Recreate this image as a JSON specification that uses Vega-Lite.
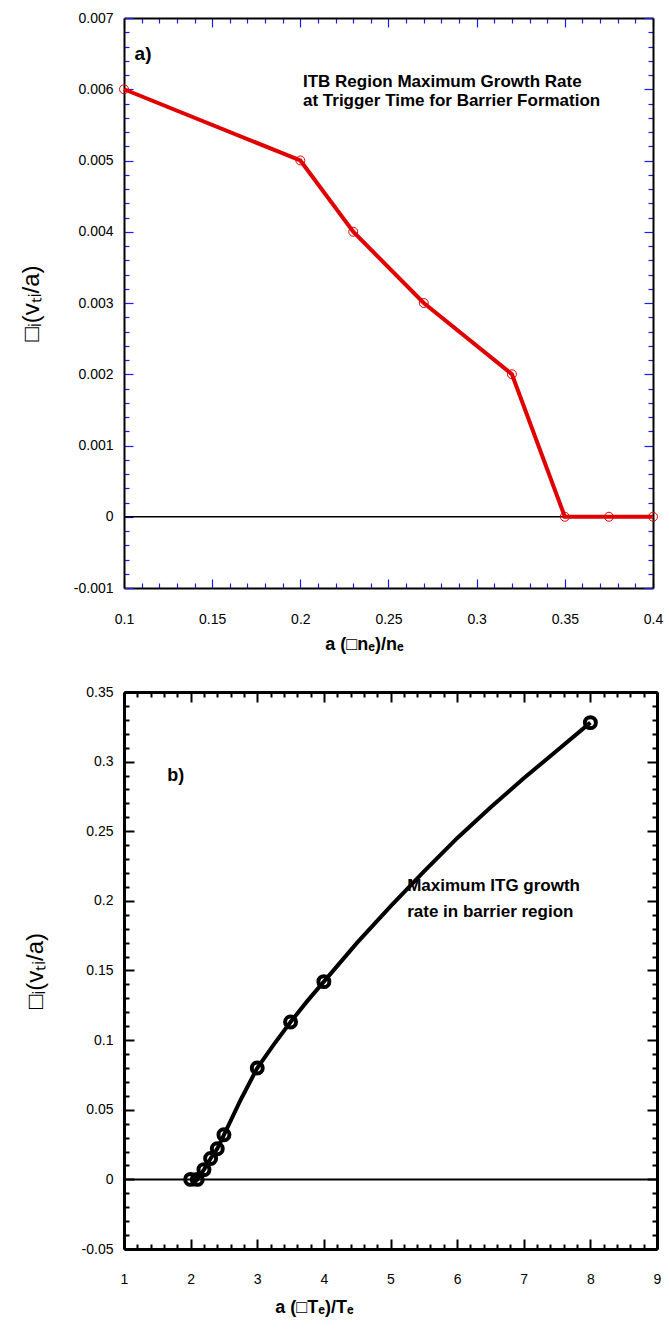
{
  "$schema": "https://vega.github.io/schema/vega-lite/v6.json",
  "background": "white",
  "padding": {"left": 19, "top": 11, "right": 10, "bottom": 5},
  "datasets": {
    "a_curve": [
      {"x": 0.1, "y": 0.006}, {"x": 0.2, "y": 0.005}, {"x": 0.23, "y": 0.004}, {"x": 0.27, "y": 0.003},
      {"x": 0.32, "y": 0.002}, {"x": 0.35, "y": 0}, {"x": 0.375, "y": 0}, {"x": 0.4, "y": 0}
    ],
    "zero": [{"y": 0}],
    "a_tag": [{"x": 0.106, "y": 0.0065, "text": "a)"}],
    "a_note": [
      {"x": 0.2015, "y": 0.0061, "text": "ITB Region Maximum Growth Rate"},
      {"x": 0.2015, "y": 0.00584, "text": "at Trigger Time for Barrier Formation"}
    ],
    "b_curve": [
      {"x": 2, "y": 0}, {"x": 2.1, "y": 0}, {"x": 2.2, "y": 0.007}, {"x": 2.3, "y": 0.015},
      {"x": 2.4, "y": 0.022}, {"x": 2.5, "y": 0.032}, {"x": 2.75, "y": 0.057}, {"x": 3, "y": 0.08},
      {"x": 3.25, "y": 0.097}, {"x": 3.5, "y": 0.113}, {"x": 3.75, "y": 0.128}, {"x": 4, "y": 0.142},
      {"x": 4.5, "y": 0.17}, {"x": 5, "y": 0.196}, {"x": 5.5, "y": 0.221}, {"x": 6, "y": 0.245},
      {"x": 6.5, "y": 0.267}, {"x": 7, "y": 0.288}, {"x": 7.5, "y": 0.308}, {"x": 8, "y": 0.328}
    ],
    "b_marks": [
      {"x": 2, "y": 0}, {"x": 2.1, "y": 0}, {"x": 2.2, "y": 0.007}, {"x": 2.3, "y": 0.015},
      {"x": 2.4, "y": 0.022}, {"x": 2.5, "y": 0.032}, {"x": 3, "y": 0.08}, {"x": 3.5, "y": 0.113},
      {"x": 4, "y": 0.142}, {"x": 8, "y": 0.328}
    ],
    "b_tag": [{"x": 1.65, "y": 0.29, "text": "b)"}],
    "b_note": [
      {"x": 5.25, "y": 0.2106, "text": "Maximum  ITG  growth"},
      {"x": 5.25, "y": 0.192, "text": "rate  in  barrier  region"}
    ]
  },
  "vconcat": [
    {
      "width": 529,
      "height": 570,
      "layer": [
        {
          "data": {"name": "zero"},
          "mark": {"type": "rule", "color": "black", "strokeWidth": 1.5},
          "encoding": {
            "y": {"field": "y", "type": "quantitative", "scale": {"domain": [-0.001, 0.007], "nice": false, "zero": false}, "axis": null}
          }
        },
        {
          "data": {"name": "a_curve"},
          "mark": {"type": "line", "color": "#e00000", "strokeWidth": 4, "clip": false},
          "encoding": {
            "x": {
              "field": "x", "type": "quantitative",
              "scale": {"domain": [0.1, 0.4], "nice": false, "zero": false},
              "axis": {
                "orient": "bottom",
                "values": [0.1,0.11,0.12,0.13,0.14,0.15,0.16,0.17,0.18,0.19,0.2,0.21,0.22,0.23,0.24,0.25,0.26,0.27,0.28,0.29,0.3,0.31,0.32,0.33,0.34,0.35,0.36,0.37,0.38,0.39,0.4],
                "labelExpr": "abs(datum.value*20-round(datum.value*20))<1e-6 ? replace(format(datum.value,'~g'),'−','-') : ''",
                "tickSize": {"condition": {"test": "abs(datum.value*20-round(datum.value*20))<1e-6", "value": -9}, "value": -5},
                "tickColor": "#1a1aff", "tickWidth": 1.2,
                "labelPadding": 33,
                "domainWidth": 2,
                "title": "a  (□nₑ)/nₑ",
                "titleFont": "Liberation Sans", "titleFontSize": 18, "titleFontWeight": "bold", "titleColor": "black",
                "titleX": 240,
                "titlePadding": 5
              }
            },
            "y": {
              "field": "y", "type": "quantitative",
              "scale": {"domain": [-0.001, 0.007], "nice": false, "zero": false},
              "axis": {
                "orient": "left",
                "values": [-0.001,-0.0008,-0.0006,-0.0004,-0.0002,0,0.0002,0.0004,0.0006,0.0008,0.001,0.0012,0.0014,0.0016,0.0018,0.002,0.0022,0.0024,0.0026,0.0028,0.003,0.0032,0.0034,0.0036,0.0038,0.004,0.0042,0.0044,0.0046,0.0048,0.005,0.0052,0.0054,0.0056,0.0058,0.006,0.0062,0.0064,0.0066,0.0068,0.007],
                "labelExpr": "abs(datum.value*1000-round(datum.value*1000))<1e-6 ? replace(format(datum.value,'~g'),'−','-') : ''",
                "tickSize": {"condition": {"test": "abs(datum.value*1000-round(datum.value*1000))<1e-6", "value": -9}, "value": -5},
                "tickColor": "#1a1aff", "tickWidth": 1.2,
                "labelPadding": 20,
                "domainWidth": 2,
                "title": "□ᵢ(vₜᵢ/a)",
                "titleFont": "Liberation Sans", "titleFontSize": 24, "titleFontWeight": "normal", "titleColor": "black",
                "titlePadding": 30
              }
            }
          }
        },
        {
          "data": {"name": "a_curve"},
          "mark": {"type": "point", "shape": "circle", "color": "#e00000", "size": 80, "strokeWidth": 1, "filled": false, "opacity": 1, "clip": false},
          "encoding": {
            "x": {
              "field": "x", "type": "quantitative",
              "axis": {
                "orient": "top",
                "values": [0.1,0.11,0.12,0.13,0.14,0.15,0.16,0.17,0.18,0.19,0.2,0.21,0.22,0.23,0.24,0.25,0.26,0.27,0.28,0.29,0.3,0.31,0.32,0.33,0.34,0.35,0.36,0.37,0.38,0.39,0.4],
                "labels": false,
                "tickSize": {"condition": {"test": "abs(datum.value*20-round(datum.value*20))<1e-6", "value": -9}, "value": -5},
                "tickColor": "#1a1aff", "tickWidth": 1.2,
                "domainWidth": 2,
                "title": null
              }
            },
            "y": {
              "field": "y", "type": "quantitative",
              "axis": {
                "orient": "right",
                "values": [-0.001,-0.0008,-0.0006,-0.0004,-0.0002,0,0.0002,0.0004,0.0006,0.0008,0.001,0.0012,0.0014,0.0016,0.0018,0.002,0.0022,0.0024,0.0026,0.0028,0.003,0.0032,0.0034,0.0036,0.0038,0.004,0.0042,0.0044,0.0046,0.0048,0.005,0.0052,0.0054,0.0056,0.0058,0.006,0.0062,0.0064,0.0066,0.0068,0.007],
                "labels": false,
                "tickSize": {"condition": {"test": "abs(datum.value*1000-round(datum.value*1000))<1e-6", "value": -9}, "value": -5},
                "tickColor": "#1a1aff", "tickWidth": 1.2,
                "domainWidth": 2,
                "title": null
              }
            }
          }
        },
        {
          "data": {"name": "a_tag"},
          "mark": {"type": "text", "align": "left", "baseline": "middle", "font": "Liberation Sans", "fontSize": 19, "fontWeight": "bold", "color": "black"},
          "encoding": {
            "x": {"field": "x", "type": "quantitative", "axis": null},
            "y": {"field": "y", "type": "quantitative", "axis": null},
            "text": {"field": "text"}
          }
        },
        {
          "data": {"name": "a_note"},
          "mark": {"type": "text", "align": "left", "baseline": "middle", "font": "Liberation Sans", "fontSize": 17, "fontWeight": "bold", "color": "black"},
          "encoding": {
            "x": {"field": "x", "type": "quantitative", "axis": null},
            "y": {"field": "y", "type": "quantitative", "axis": null},
            "text": {"field": "text"}
          }
        }
      ],
      "resolve": {"axis": {"x": "independent", "y": "independent"}}
    },
    {
      "width": 533,
      "height": 557,
      "layer": [
        {
          "data": {"name": "zero"},
          "mark": {"type": "rule", "color": "black", "strokeWidth": 2},
          "encoding": {
            "y": {"field": "y", "type": "quantitative", "scale": {"domain": [-0.05, 0.35], "nice": false, "zero": false}, "axis": null}
          }
        },
        {
          "data": {"name": "b_curve"},
          "mark": {"type": "line", "color": "black", "strokeWidth": 4, "clip": false},
          "encoding": {
            "x": {
              "field": "x", "type": "quantitative",
              "scale": {"domain": [1, 9], "nice": false, "zero": false},
              "axis": {
                "orient": "bottom",
                "values": [1,1.2,1.4,1.6,1.8,2,2.2,2.4,2.6,2.8,3,3.2,3.4,3.6,3.8,4,4.2,4.4,4.6,4.8,5,5.2,5.4,5.6,5.8,6,6.2,6.4,6.6,6.8,7,7.2,7.4,7.6,7.8,8,8.2,8.4,8.6,8.8,9],
                "labelExpr": "abs(datum.value-round(datum.value))<1e-6 ? replace(format(datum.value,'~g'),'−','-') : ''",
                "tickSize": {"condition": {"test": "abs(datum.value-round(datum.value))<1e-6", "value": -10}, "value": -5},
                "tickColor": "black", "tickWidth": 2,
                "labelPadding": 33,
                "domainWidth": 3,
                "title": "a  (□Tₑ)/Tₑ",
                "titleFont": "Liberation Sans", "titleFontSize": 18, "titleFontWeight": "bold", "titleColor": "black",
                "titleX": 190,
                "titlePadding": 7
              }
            },
            "y": {
              "field": "y", "type": "quantitative",
              "scale": {"domain": [-0.05, 0.35], "nice": false, "zero": false},
              "axis": {
                "orient": "left",
                "values": [-0.05,-0.04,-0.03,-0.02,-0.01,0,0.01,0.02,0.03,0.04,0.05,0.06,0.07,0.08,0.09,0.1,0.11,0.12,0.13,0.14,0.15,0.16,0.17,0.18,0.19,0.2,0.21,0.22,0.23,0.24,0.25,0.26,0.27,0.28,0.29,0.3,0.31,0.32,0.33,0.34,0.35],
                "labelExpr": "abs(datum.value*20-round(datum.value*20))<1e-6 ? replace(format(datum.value,'~g'),'−','-') : ''",
                "tickSize": {"condition": {"test": "abs(datum.value*20-round(datum.value*20))<1e-6", "value": -10}, "value": -5},
                "tickColor": "black", "tickWidth": 2,
                "labelPadding": 21,
                "domainWidth": 3,
                "title": "□ᵢ(vₜᵢ/a)",
                "titleFont": "Liberation Sans", "titleFontSize": 24, "titleFontWeight": "normal", "titleColor": "black",
                "titlePadding": 34
              }
            }
          }
        },
        {
          "data": {"name": "b_marks"},
          "mark": {"type": "point", "shape": "circle", "color": "black", "size": 120, "strokeWidth": 4, "filled": false, "opacity": 1, "clip": false},
          "encoding": {
            "x": {
              "field": "x", "type": "quantitative",
              "axis": {
                "orient": "top",
                "values": [1,1.2,1.4,1.6,1.8,2,2.2,2.4,2.6,2.8,3,3.2,3.4,3.6,3.8,4,4.2,4.4,4.6,4.8,5,5.2,5.4,5.6,5.8,6,6.2,6.4,6.6,6.8,7,7.2,7.4,7.6,7.8,8,8.2,8.4,8.6,8.8,9],
                "labels": false,
                "tickSize": {"condition": {"test": "abs(datum.value-round(datum.value))<1e-6", "value": -10}, "value": -5},
                "tickColor": "black", "tickWidth": 2,
                "domainWidth": 3,
                "title": null
              }
            },
            "y": {
              "field": "y", "type": "quantitative",
              "axis": {
                "orient": "right",
                "values": [-0.05,-0.04,-0.03,-0.02,-0.01,0,0.01,0.02,0.03,0.04,0.05,0.06,0.07,0.08,0.09,0.1,0.11,0.12,0.13,0.14,0.15,0.16,0.17,0.18,0.19,0.2,0.21,0.22,0.23,0.24,0.25,0.26,0.27,0.28,0.29,0.3,0.31,0.32,0.33,0.34,0.35],
                "labels": false,
                "tickSize": {"condition": {"test": "abs(datum.value*20-round(datum.value*20))<1e-6", "value": -10}, "value": -5},
                "tickColor": "black", "tickWidth": 2,
                "domainWidth": 3,
                "title": null
              }
            }
          }
        },
        {
          "data": {"name": "b_tag"},
          "mark": {"type": "text", "align": "left", "baseline": "middle", "font": "Liberation Sans", "fontSize": 18, "fontWeight": "bold", "color": "black"},
          "encoding": {
            "x": {"field": "x", "type": "quantitative", "axis": null},
            "y": {"field": "y", "type": "quantitative", "axis": null},
            "text": {"field": "text"}
          }
        },
        {
          "data": {"name": "b_note"},
          "mark": {"type": "text", "align": "left", "baseline": "middle", "font": "Liberation Sans", "fontSize": 17, "fontWeight": "bold", "color": "black"},
          "encoding": {
            "x": {"field": "x", "type": "quantitative", "axis": null},
            "y": {"field": "y", "type": "quantitative", "axis": null},
            "text": {"field": "text"}
          }
        }
      ],
      "resolve": {"axis": {"x": "independent", "y": "independent"}}
    }
  ],
  "spacing": 104,
  "bounds": "flush",
  "config": {
    "view": {"stroke": null},
    "axis": {
      "grid": false,
      "labelFont": "Liberation Sans",
      "labelFontSize": 14,
      "labelColor": "black",
      "domainColor": "black",
      "labelOverlap": false,
      "labelFlush": false,
      "titleColor": "black"
    }
  }
}
